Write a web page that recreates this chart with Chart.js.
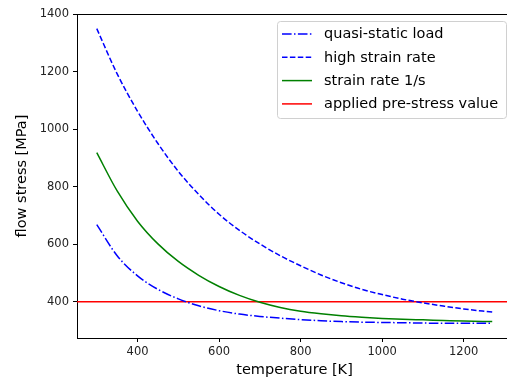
<!DOCTYPE html>
<html lang="en">
<head>
  <meta charset="UTF-8">
  <title>flow stress vs temperature</title>
  <script src="https://cdn.jsdelivr.net/npm/chart.js"></script>
  <style>
    html, body {
      margin: 0;
      padding: 0;
      overflow: hidden;
      background: #fff;
    }
    #wrap {
      width: 540px;
      height: 381px;
    }
  </style>
</head>
<body>
  <div id="wrap"><canvas id="flowChart" width="540" height="381"></canvas></div>

  <script>
    // values
    const temperature = [300, 350, 400, 450, 500, 550, 600, 650, 700, 750, 800, 850, 900, 950, 1000, 1050, 1100, 1150, 1200, 1270];
    const quasiStatic = [668, 560, 490, 443, 410, 386, 369, 357, 349, 343, 338, 334, 331, 329, 328, 327, 326, 325, 325, 325];
    const highRate = [1349, 1192, 1062, 950, 853, 773, 704, 648, 601, 560, 525, 493, 466, 443, 425, 409, 396, 385, 375, 364];
    const rate1 = [918, 785, 680, 601, 540, 492, 453, 422, 398, 380, 367, 358, 351, 346, 342, 339, 337, 335, 333, 331];
    const preStress = 400;

    const xTicks = [400, 600, 800, 1000, 1200];
    const yTicks = [400, 600, 800, 1000, 1200, 1400];
    const xMin = 251.5, xMax = 1318.5;
    const yMin = 274, yMax = 1400;

    const pts = arr => temperature.map((t, i) => ({ x: t, y: arr[i] }));

    const frame = {
      id: 'frame',
      afterDraw(chart) {
        const { ctx, chartArea: a } = chart;
        ctx.save();
        ctx.strokeStyle = '#000';
        ctx.lineWidth = 1;
        ctx.beginPath();
        ctx.moveTo(a.left, a.top + 0.5);
        ctx.lineTo(a.right, a.top + 0.5);
        ctx.moveTo(a.right - 0.5, a.top);
        ctx.lineTo(a.right - 0.5, a.bottom);
        ctx.stroke();

        // legend, upper right like matplotlib
        const boxL = 277.5, boxT = 21.5, boxW = 229, boxH = 97;
        ctx.fillStyle = 'rgba(255,255,255,0.8)';
        ctx.strokeStyle = '#d0d0d0';
        ctx.beginPath();
        ctx.roundRect(boxL, boxT, boxW, boxH, 3);
        ctx.fill();
        ctx.stroke();
        ctx.font = '14.5px "DejaVu Sans"';
        ctx.textBaseline = 'middle';
        ctx.fillStyle = '#000';
        chart.data.datasets.forEach((ds, i) => {
          const y = 34 + i * 23.3;
          ctx.strokeStyle = ds.borderColor;
          ctx.lineWidth = 1.5;
          ctx.setLineDash(ds.borderDash || []);
          ctx.beginPath();
          ctx.moveTo(282, y);
          ctx.lineTo(312, y);
          ctx.stroke();
          ctx.setLineDash([]);
          ctx.fillText(ds.label, 324, y + 0.5);
        });
        ctx.restore();
      }
    };

    const tickFont = { family: 'DejaVu Sans', size: 11.5 };
    const titleFont = { family: 'DejaVu Sans', size: 14.5 };

    new Chart(document.getElementById('flowChart'), {
      type: 'line',
      data: {
        datasets: [
          {
            label: 'quasi-static load',
            data: pts(quasiStatic),
            borderColor: '#0000ff',
            borderDash: [9.6, 2.4, 1.5, 2.4]
          },
          {
            label: 'high strain rate',
            data: pts(highRate),
            borderColor: '#0000ff',
            borderDash: [5.5, 2.4]
          },
          {
            label: 'strain rate 1/s',
            data: pts(rate1),
            borderColor: '#008000'
          },
          {
            label: 'applied pre-stress value',
            data: [{ x: xMin, y: preStress }, { x: xMax, y: preStress }],
            borderColor: '#ff0000'
          }
        ]
      },
      options: {
        responsive: false,
        animation: false,
        devicePixelRatio: 1,
        layout: { padding: { left: 0, top: 14, right: 28, bottom: 0 } },
        elements: {
          point: { radius: 0 },
          line: { borderWidth: 1.5, cubicInterpolationMode: 'monotone', fill: false }
        },
        plugins: {
          legend: { display: false },
          tooltip: { enabled: false }
        },
        scales: {
          x: {
            type: 'linear',
            min: xMin,
            max: xMax,
            afterBuildTicks: s => { s.ticks = xTicks.map(v => ({ value: v })); },
            afterFit: s => { s.height = 43; },
            grid: { drawOnChartArea: false, color: '#000', tickLength: 4 },
            border: { color: '#000', width: 1 },
            ticks: { font: tickFont, color: '#222', padding: 3, maxRotation: 0, callback: v => String(v) },
            title: { display: true, text: 'temperature [K]', font: titleFont, color: '#000', padding: { top: 0, bottom: 2 } }
          },
          y: {
            min: yMin,
            max: yMax,
            afterBuildTicks: s => { s.ticks = yTicks.map(v => ({ value: v })); },
            afterFit: s => { s.width = 77; },
            grid: { drawOnChartArea: false, color: '#000', tickLength: 4 },
            border: { color: '#000', width: 1 },
            ticks: { font: tickFont, color: '#222', padding: 4, callback: v => String(v) },
            title: { display: true, text: 'flow stress [MPa]', font: titleFont, color: '#000', padding: { top: 14, bottom: 0 } }
          }
        }
      },
      plugins: [frame]
    });
  </script>
</body>
</html>
